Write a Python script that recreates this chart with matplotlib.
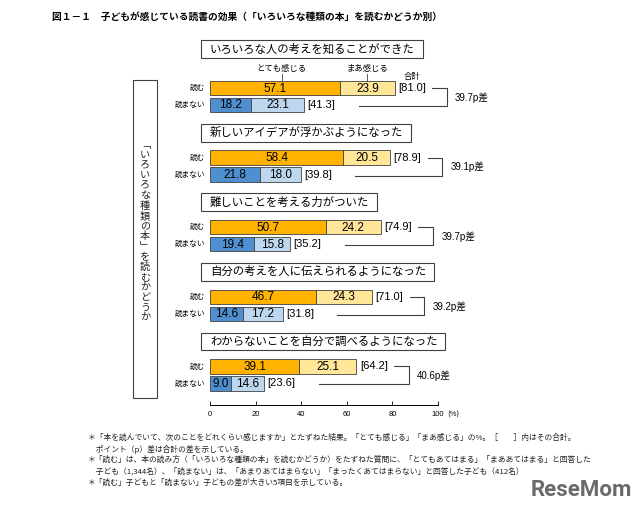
import matplotlib.pyplot as plt
from matplotlib.patches import Rectangle

plt.rcParams['font.family'] = ['Noto Sans CJK JP', 'DejaVu Sans']

# data
items = ["いろいろな人の考えを知ることができた",
         "新しいアイデアが浮かぶようになった",
         "難しいことを考える力がついた",
         "自分の考えを人に伝えられるようになった",
         "わからないことを自分で調べるようになった"]
read_strong = [57.1, 58.4, 50.7, 46.7, 39.1]
read_some = [23.9, 20.5, 24.2, 24.3, 25.1]
read_total = [81.0, 78.9, 74.9, 71.0, 64.2]
not_strong = [18.2, 21.8, 19.4, 14.6, 9.0]
not_some = [23.1, 18.0, 15.8, 17.2, 14.6]
not_total = [41.3, 39.8, 35.2, 31.8, 23.6]
diffs = [39.7, 39.1, 39.7, 39.2, 40.6]
row_labels = ["読む", "読まない"]
series_labels = ["とても感じる", "まあ感じる", "合計"]
xticks = [0, 20, 40, 60, 80, 100]

title = "図１－１　子どもが感じている読書の効果（「いろいろな種類の本」を読むかどうか別）"
side_text = "﹁いろいろな種類の本﹂を読むかどうか"
notes = [
    "＊「本を読んでいて、次のことをどれくらい感じますか」とたずねた結果。「とても感じる」「まあ感じる」の%。［　　］内はその合計。",
    "　ポイント（p）差は合計の差を示している。",
    "＊「読む」は、本の読み方（「いろいろな種類の本」を読むかどうか）をたずねた質問に、「とてもあてはまる」「まああてはまる」と回答した",
    "　子ども（1,344名）、「読まない」は、「あまりあてはまらない」「まったくあてはまらない」と回答した子ども（412名）",
    "＊「読む」子どもと「読まない」子どもの差が大きい5項目を示している。",
]

c_orange = "#FFB300"
c_yellow = "#FFE699"
c_blue = "#4F8FD0"
c_lblue = "#BDD7EE"
c_edge = "#404040"

W, H = 640, 507
fig = plt.figure(figsize=(W / 100, H / 100), dpi=100)
# axes in pixel-like y units (top = 30, bottom axis line = 405)
ax = fig.add_axes([210 / W, 1 - 405 / H, 228 / W, 375 / H])
ax.set_xlim(0, 100)
ax.set_ylim(405, 30)
for s in ["left", "right", "top"]:
    ax.spines[s].set_visible(False)
ax.spines["bottom"].set_linewidth(0.7)
ax.set_yticks([])
ax.set_xticks(xticks)
ax.set_xticklabels([str(t) for t in xticks], fontsize=5.5, family="Liberation Sans")
ax.tick_params(axis="x", direction="in", length=3, width=0.6, pad=4)
ax.text(104, 415, "(%)", fontsize=5.5, va="center", ha="left")

y0, gap, dy, bh = 88, 69.6, 17, 14.5
num_font = dict(fontsize=8.5, family=["Liberation Sans"], ha="center", va="center")
tot_font = dict(fontsize=8, family=["Liberation Sans"], ha="left", va="center")

title_boxes = []
for i in range(len(items)):
    yr = y0 + i * gap
    yn = yr + dy
    ax.barh(yr, read_strong[i], height=bh, color=c_orange, edgecolor=c_edge, lw=0.6)
    ax.barh(yr, read_some[i], left=read_strong[i], height=bh, color=c_yellow, edgecolor=c_edge, lw=0.6)
    ax.barh(yn, not_strong[i], height=bh, color=c_blue, edgecolor=c_edge, lw=0.6)
    ax.barh(yn, not_some[i], left=not_strong[i], height=bh, color=c_lblue, edgecolor=c_edge, lw=0.6)
    ax.text(read_strong[i] / 2, yr + 0.5, f"{read_strong[i]:.1f}", **num_font)
    ax.text(read_strong[i] + read_some[i] / 2, yr + 0.5, f"{read_some[i]:.1f}", **num_font)
    ax.text(not_strong[i] / 2, yn + 0.5, f"{not_strong[i]:.1f}", **num_font)
    ax.text(not_strong[i] + not_some[i] / 2, yn + 0.5, f"{not_some[i]:.1f}", **num_font)
    ax.text(read_total[i] + 1.5, yr, f"[{read_total[i]:.1f}]", **tot_font)
    ax.text(not_total[i] + 1.5, yn, f"[{not_total[i]:.1f}]", **tot_font)
    ax.text(-2, yr, row_labels[0], fontsize=5.5, ha="right", va="center")
    ax.text(-2, yn, row_labels[1], fontsize=5.5, ha="right", va="center")
    # difference bracket
    xv = read_total[i] + 23
    ax.plot([read_total[i] + 16.5, xv, xv, not_total[i] + 24],
            [yr, yr, yn + 1, yn + 1], color=c_edge, lw=0.8, clip_on=False)
    ax.text(xv + 3.5, (yr + yn) / 2 + 1, f"{diffs[i]:.1f}p差", fontsize=7,
            ha="left", va="center", family=["Liberation Sans", "Noto Sans CJK JP"])
    # item title
    yb = yr - (39 if i == 0 else 25)
    t = ax.text(0, yb, items[i], fontsize=8.2, ha="left", va="center")
    title_boxes.append(t)

# series headers on the first group
hx = [read_strong[0] / 2 + 3, read_strong[0] + read_some[0] / 2]
for x, lab in zip(hx, series_labels[:2]):
    ax.text(x, 69, lab, fontsize=6, ha="center", va="center")
    ax.plot([x, x], [74, 80.5], color=c_edge, lw=0.6, clip_on=False)
ax.text(read_total[0] + 7.5, 76, series_labels[2], fontsize=6, ha="center", va="center")

# boxes around item titles
fig.canvas.draw()
r = fig.canvas.get_renderer()
inv = fig.transFigure.inverted()
for t in title_boxes:
    bb = t.get_window_extent(r).transformed(inv)
    px, py = 8 / W, 3.5 / H
    x0 = 201 / W
    fig.add_artist(Rectangle((x0, bb.y0 - py), bb.x1 - x0 + px, bb.height + 2 * py,
                             fill=False, edgecolor=c_edge, lw=0.8))

# left vertical label
fig.add_artist(Rectangle((133 / W, 1 - 398 / H), 24 / W, 318 / H,
                         fill=False, edgecolor=c_edge, lw=0.8))
fig.text(145 / W, 1 - 231 / H, "\n".join(side_text), fontsize=7.3, ha="center",
         va="center", linespacing=1.02, color="#222222")

fig.text(52 / W, 1 - 17 / H, title, fontsize=7, fontweight="bold", ha="left", va="center")

for k, line in enumerate(notes):
    yy = [438, 449, 460, 471, 483][k]
    fig.text(88 / W, 1 - yy / H, line, fontsize=5.6, ha="left", va="center", color="#222222")

fig.text(632 / W, 1 - 490 / H, "ReseMom", fontsize=16, fontweight="bold", ha="right",
         va="center", color="#6a6a6a", family="Roboto")

fig.savefig("out.png", dpi=100)
